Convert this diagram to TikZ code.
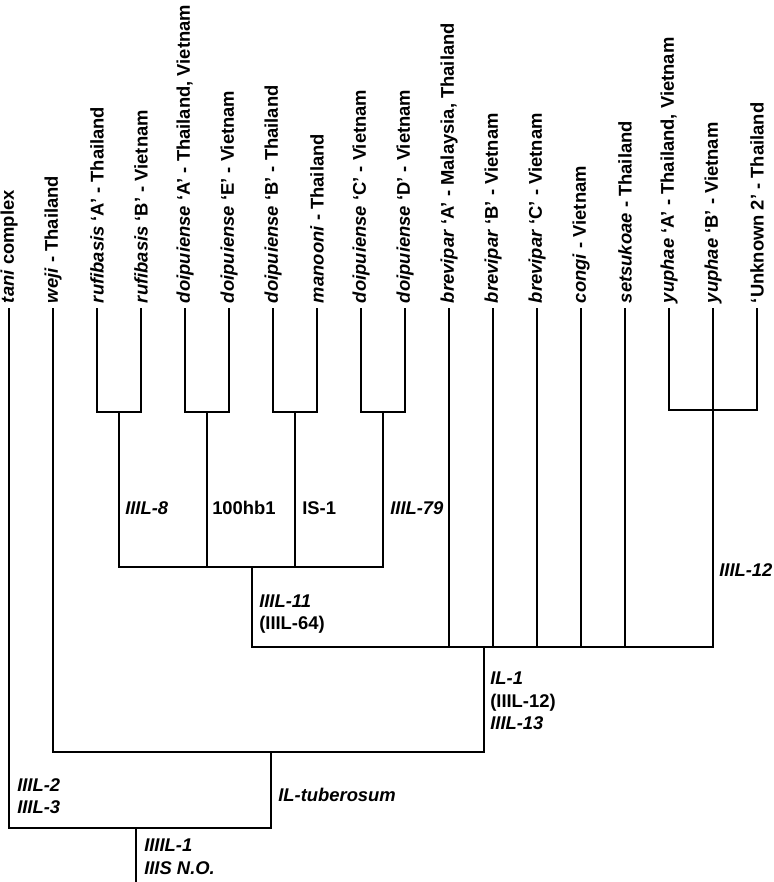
\documentclass[tikz,border=0pt]{standalone}
\usepackage{fontspec}
\setmainfont{Liberation Sans}
\usetikzlibrary{positioning, calc}

\begin{document}
\begin{tikzpicture}[
    x=0.75pt, y=-0.75pt,
    leaf/.style={
        rotate=90,
        anchor=west,
        inner xsep=3.5pt,
        inner ysep=0pt,
        font=\fontsize{13.8pt}{17pt}\selectfont\bfseries
    },
    clade/.style={
        anchor=west,
        inner sep=0pt,
        align=left,
        font=\fontsize{13.8pt}{17pt}\selectfont\bfseries
    },
    branch/.style={
        line width=1.65pt,
        line join=miter
    }
]
    \useasboundingbox (0,0) rectangle (774,882);

    % -- Leaves --
    \node[leaf] (tani)  at (9,308)   {\textit{tani} complex};
    \node[leaf] (weji)  at (53,308)  {\textit{weji} - Thailand};
    \node[leaf] (rufA)  at (97,308)  {\textit{rufibasis} ‘A’ - Thailand};
    \node[leaf] (rufB)  at (141,308) {\textit{rufibasis} ‘B’ - Vietnam};
    \node[leaf] (doiA)  at (185,308) {\textit{doipuiense} ‘A’ - Thailand, Vietnam};
    \node[leaf] (doiE)  at (229,308) {\textit{doipuiense} ‘E’ - Vietnam};
    \node[leaf] (doiB)  at (273,308) {\textit{doipuiense} ‘B’ - Thailand};
    \node[leaf] (man)   at (317,308) {\textit{manooni} - Thailand};
    \node[leaf] (doiC)  at (361,308) {\textit{doipuiense} ‘C’ - Vietnam};
    \node[leaf] (doiD)  at (405,308) {\textit{doipuiense} ‘D’ - Vietnam};
    \node[leaf] (brevA) at (449,308) {\textit{brevipar} ‘A’ - Malaysia, Thailand};
    \node[leaf] (brevB) at (493,308) {\textit{brevipar} ‘B’ - Vietnam};
    \node[leaf] (brevC) at (537,308) {\textit{brevipar} ‘C’ - Vietnam};
    \node[leaf] (congi) at (581,308) {\textit{congi} - Vietnam};
    \node[leaf] (sets)  at (625,308) {\textit{setsukoae} - Thailand};
    \node[leaf] (yupA)  at (669,308) {\textit{yuphae} ‘A’ - Thailand, Vietnam};
    \node[leaf] (yupB)  at (713,308) {\textit{yuphae} ‘B’ - Vietnam};
    \node[leaf] (unk)   at (757,308) {‘Unknown 2’ - Thailand};

    % -- Junctions --
    \coordinate (j-ruf)   at (119,412);
    \coordinate (j-doiAE) at (207,412);
    \coordinate (j-doiB)  at (295,412);
    \coordinate (j-doiCD) at (383,412);
    \coordinate (j-yup)   at (713,410);
    \coordinate (j-11)    at (252,567);
    \coordinate (j-1)     at (484,647);
    \coordinate (j-tub)   at (271,752);
    \coordinate (j-root)  at (136,828);
    \coordinate (root)    at (136,882);

    % Pairs
    \draw[branch] (rufA.west) |- (j-ruf) -| (rufB.west);
    \draw[branch] (doiA.west) |- (j-doiAE) -| (doiE.west);
    \draw[branch] (doiB.west) |- (j-doiB) -| (man.west);
    \draw[branch] (doiC.west) |- (j-doiCD) -| (doiD.west);
    \draw[branch] (yupA.west) |- (j-yup) -| (unk.west);

    % doipuiense group
    \draw[branch] (j-ruf) |- (j-doiCD |- j-11) -- (j-doiCD);
    \draw[branch] (j-doiAE) -- (j-doiAE |- j-11);
    \draw[branch] (j-doiB) -- (j-doiB |- j-11);

    % IL-1 clade
    \draw[branch] (j-11) |- (yupB.west |- j-1) -- (yupB.west);
    \draw[branch] (brevA.west) -- (brevA.west |- j-1);
    \draw[branch] (brevB.west) -- (brevB.west |- j-1);
    \draw[branch] (brevC.west) -- (brevC.west |- j-1);
    \draw[branch] (congi.west) -- (congi.west |- j-1);
    \draw[branch] (sets.west) -- (sets.west |- j-1);

    % Base of tree
    \draw[branch] (j-1) |- (weji.west |- j-tub) -- (weji.west);
    \draw[branch] (tani.west) |- (j-tub |- j-root) -- (j-tub);
    \draw[branch] (j-root) -- (root);

    % -- Branch labels --
    \node[clade] (lb-8)   at (125,508) {\textit{IIIL-8}};
    \node[clade] (lb-hb1) at (212,508) {100hb1};
    \node[clade] (lb-is1) at (302,508) {IS-1};
    \node[clade] (lb-79)  at (390,508) {\textit{IIIL-79}};
    \node[clade] (lb-11)  at (259,614) {\textit{IIIL-11}\\(IIIL-64)};
    \node[clade] (lb-12)  at (719,570) {\textit{IIIL-12}};
    \node[clade] (lb-1)   at (490,701) {\textit{IL-1}\\(IIIL-12)\\\textit{IIIL-13}};
    \node[clade] (lb-tub) at (278,795) {\textit{IL-tuberosum}};
    \node[clade] (lb-2)   at (17,796)  {\textit{IIIL-2}\\\textit{IIIL-3}};
    \node[clade] (lb-r)   at (144,857) {\textit{IIIIL-1}\\\textit{IIIS N.O.}};

\end{tikzpicture}
\end{document}
